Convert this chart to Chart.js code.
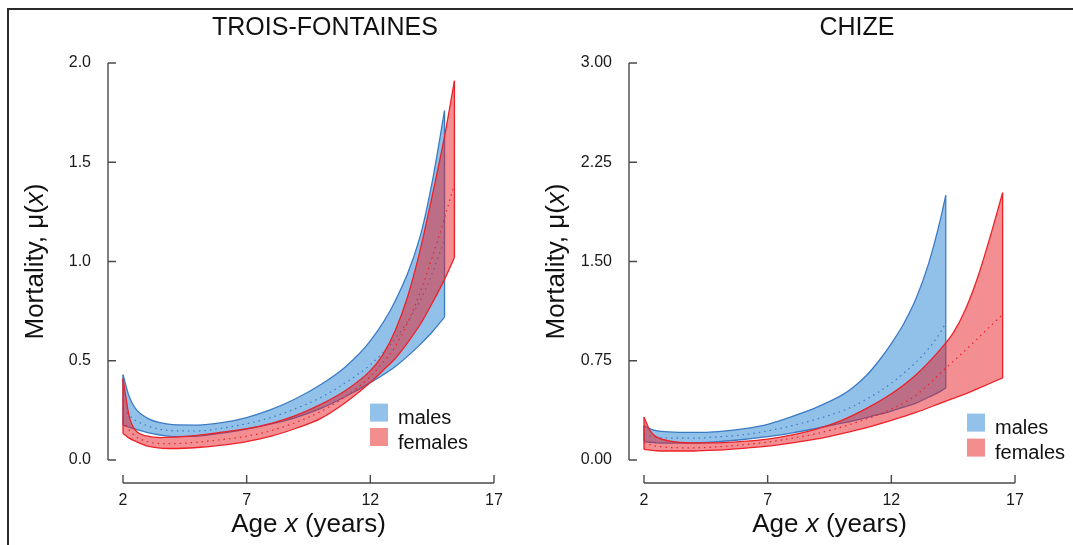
<!DOCTYPE html>
<html>
<head>
<meta charset="utf-8">
<title>Age-specific mortality</title>
<script src="https://cdn.jsdelivr.net/npm/chart.js@4.4.1/dist/chart.umd.min.js"></script>
<style>
  body { margin: 0; background: #fff; overflow: hidden; }
  #frame { position: absolute; left: 7px; top: 8px; width: 1064px; height: 535px;
           border-left: 2px solid #2b2b2b; border-top: 2px solid #2b2b2b; }
  canvas { position: absolute; top: 0; }
  #tf { left: 0; }
  #ch { left: 536px; }
</style>
</head>
<body>
<div id="frame"></div>
<canvas id="tf" width="536" height="545"></canvas>
<canvas id="ch" width="537" height="545"></canvas>
<script>
// tick values
const xTicks = [2, 7, 12, 17];
const tfYTicks = [0, 0.5, 1.0, 1.5, 2.0];
const chYTicks = [0, 0.75, 1.5, 2.25, 3.0];

// Trois-Fontaines, males
const tfMaleAge   = [2, 2.25, 2.5, 3, 3.5, 4, 5, 6, 7, 8, 9, 10, 11, 12, 13, 14, 14.5, 15];
const tfMaleUpper = [0.43, 0.32, 0.26, 0.21, 0.188, 0.178, 0.176, 0.188, 0.214, 0.255, 0.31, 0.38, 0.47, 0.60, 0.80, 1.12, 1.40, 1.76];
const tfMaleLower = [0.176, 0.165, 0.155, 0.138, 0.126, 0.118, 0.12, 0.135, 0.155, 0.182, 0.215, 0.26, 0.32, 0.39, 0.47, 0.58, 0.645, 0.72];
const tfMaleMid   = [0.26, 0.225, 0.2, 0.172, 0.155, 0.148, 0.146, 0.16, 0.183, 0.215, 0.26, 0.315, 0.39, 0.48, 0.61, 0.8, 0.94, 1.11];

// Trois-Fontaines, females
const tfFemaleAge   = [2, 2.25, 2.5, 3, 3.5, 4, 5, 6, 7, 8, 9, 10, 11, 12, 12.5, 13, 13.5, 14, 14.5, 15, 15.4];
const tfFemaleUpper = [0.41, 0.22, 0.15, 0.12, 0.113, 0.115, 0.124, 0.14, 0.158, 0.185, 0.225, 0.28, 0.35, 0.45, 0.53, 0.65, 0.82, 1.05, 1.33, 1.63, 1.91];
const tfFemaleLower = [0.134, 0.11, 0.095, 0.07, 0.06, 0.058, 0.063, 0.075, 0.093, 0.12, 0.16, 0.21, 0.29, 0.39, 0.45, 0.51, 0.59, 0.68, 0.79, 0.91, 1.02];
const tfFemaleMid   = [0.2, 0.15, 0.12, 0.092, 0.083, 0.082, 0.09, 0.103, 0.12, 0.148, 0.19, 0.245, 0.32, 0.42, 0.49, 0.57, 0.69, 0.84, 1.02, 1.22, 1.39];

// Chize, males
const chMaleAge   = [2, 2.25, 2.5, 3, 4, 5, 6, 7, 8, 9, 10, 10.5, 11, 11.5, 12, 12.5, 13, 13.5, 14, 14.2];
const chMaleUpper = [0.26, 0.235, 0.222, 0.212, 0.208, 0.215, 0.235, 0.27, 0.33, 0.40, 0.49, 0.555, 0.64, 0.75, 0.88, 1.03, 1.22, 1.48, 1.83, 2.0];
const chMaleLower = [0.14, 0.134, 0.13, 0.128, 0.128, 0.138, 0.155, 0.176, 0.205, 0.24, 0.278, 0.298, 0.32, 0.344, 0.37, 0.4, 0.43, 0.474, 0.52, 0.545];
const chMaleMid   = [0.195, 0.18, 0.172, 0.166, 0.165, 0.175, 0.19, 0.22, 0.26, 0.31, 0.37, 0.41, 0.46, 0.515, 0.58, 0.655, 0.74, 0.84, 0.97, 1.035];

// Chize, females
const chFemaleAge   = [2, 2.25, 2.5, 3, 4, 5, 6, 7, 8, 9, 10, 11, 12, 13, 14, 14.5, 15, 15.5, 16, 16.5];
const chFemaleUpper = [0.325, 0.22, 0.175, 0.145, 0.13, 0.13, 0.14, 0.158, 0.19, 0.235, 0.3, 0.39, 0.5, 0.645, 0.84, 0.96, 1.14, 1.385, 1.69, 2.02];
const chFemaleLower = [0.08, 0.075, 0.07, 0.068, 0.068, 0.075, 0.088, 0.105, 0.13, 0.16, 0.2, 0.245, 0.3, 0.36, 0.43, 0.465, 0.5, 0.54, 0.58, 0.62];
const chFemaleMid   = [0.13, 0.115, 0.105, 0.095, 0.092, 0.1, 0.115, 0.135, 0.165, 0.2, 0.25, 0.31, 0.385, 0.49, 0.66, 0.745, 0.83, 0.92, 1.01, 1.1];

const BLUE = { line: '#3b7bc4', fill: 'rgba(36,130,210,0.5)', key: '#92c1e9' };
const RED  = { line: '#ec2228', fill: 'rgba(232,30,38,0.5)', key: '#f28e8e' };
const FONT = '"Liberation Sans", Arial, sans-serif';

function pts(age, vals) {
  return age.map((a, i) => ({ x: a, y: vals[i] }));
}

// one shaded band: dotted estimate, lower and upper bounds, closed ends
function band(age, upper, lower, mid, col) {
  const n = age.length - 1;
  const common = { pointRadius: 0, borderWidth: 1.3, borderColor: col.line, fill: false,
                   cubicInterpolationMode: 'monotone', clip: false };
  return [
    { ...common, data: pts(age, mid), borderDash: [1.5, 4], borderWidth: 1.2 },
    { ...common, data: pts(age, lower) },
    { ...common, data: pts(age, upper), fill: '-1', backgroundColor: col.fill },
    { ...common, cubicInterpolationMode: 'default', tension: 0, data: [
        { x: age[0], y: lower[0] }, { x: age[0], y: upper[0] }, { x: age[n], y: null },
        { x: age[n], y: lower[n] }, { x: age[n], y: upper[n] }] }
  ];
}

function mixedText(ctx, parts, size, cx, by) {
  const fonts = parts.map(p => (p[1] ? 'italic ' : '') + size + 'px ' + FONT);
  const ws = parts.map((p, i) => { ctx.font = fonts[i]; return ctx.measureText(p[0]).width; });
  let xx = cx - ws.reduce((s, w) => s + w, 0) / 2;
  parts.forEach((p, i) => { ctx.font = fonts[i]; ctx.fillText(p[0], xx, by); xx += ws[i]; });
}

// R-style detached axes, titles and key
const panel = {
  id: 'panel',
  afterDraw(chart, args, o) {
    const { ctx, chartArea: a, scales: { x, y } } = chart;
    ctx.save();
    ctx.strokeStyle = '#4a4a4a';
    ctx.lineWidth = 1.4;
    const ax = a.left - 15, ay = a.bottom + 23;
    ctx.beginPath();
    ctx.moveTo(ax, y.getPixelForValue(y.max));
    ctx.lineTo(ax, y.getPixelForValue(y.min));
    y.ticks.forEach(t => { const p = y.getPixelForValue(t.value); ctx.moveTo(ax, p); ctx.lineTo(ax + 8, p); });
    ctx.moveTo(x.getPixelForValue(x.min), ay);
    ctx.lineTo(x.getPixelForValue(x.max), ay);
    x.ticks.forEach(t => { const p = x.getPixelForValue(t.value); ctx.moveTo(p, ay); ctx.lineTo(p, ay - 8); });
    ctx.stroke();

    ctx.fillStyle = '#111';
    ctx.textAlign = 'center';
    ctx.textBaseline = 'alphabetic';
    ctx.font = '25px ' + FONT;
    ctx.fillText(o.title, o.titleX, 35);

    ctx.textAlign = 'left';
    mixedText(ctx, [['Age ', false], ['x', true], [' (years)', false]], 26, (a.left + a.right) / 2, 532);
    ctx.save();
    ctx.translate(o.yTitleX, (a.top + a.bottom) / 2);
    ctx.rotate(-Math.PI / 2);
    mixedText(ctx, [['Mortality, \u03bc(', false], ['x', true], [')', false]], 26, 0, 0);
    ctx.restore();

    ctx.font = '20px ' + FONT;
    [['males', BLUE], ['females', RED]].forEach((k, i) => {
      ctx.fillStyle = k[1].key;
      ctx.fillRect(o.keyX, o.keyY[i], 18, 18);
      ctx.fillStyle = '#111';
      ctx.fillText(k[0], o.keyX + 28, o.keyY[i] + 20.5);
    });
    ctx.restore();
  }
};

function makeChart(id, bands, yMax, yTicks, digits, padRight, yWidth, deco) {
  return new Chart(document.getElementById(id), {
    type: 'line',
    data: { datasets: bands },
    options: {
      responsive: false,
      animation: false,
      events: [],
      layout: { padding: { left: 0, top: 63, right: padRight, bottom: 0 } },
      plugins: { legend: { display: false }, tooltip: { enabled: false }, panel: deco },
      scales: {
        x: {
          type: 'linear', min: 2, max: 17,
          grid: { display: false, drawTicks: false }, border: { display: false },
          afterBuildTicks: s => { s.ticks = xTicks.map(v => ({ value: v })); },
          afterFit: s => { s.height = 85; s.paddingLeft = 0; s.paddingRight = 0; },
          ticks: { padding: 31, autoSkip: false, maxRotation: 0, color: '#1a1a1a',
                   font: { family: FONT, size: 16 } }
        },
        y: {
          type: 'linear', min: 0, max: yMax,
          grid: { display: false, drawTicks: false }, border: { display: false },
          afterBuildTicks: s => { s.ticks = yTicks.map(v => ({ value: v })); },
          afterFit: s => { s.width = yWidth; s.paddingTop = 0; s.paddingBottom = 0; },
          ticks: { padding: 32, color: '#1a1a1a', font: { family: FONT, size: 16 },
                   callback: v => Number(v).toFixed(digits) }
        }
      }
    },
    plugins: [panel]
  });
}

makeChart('tf', [
  ...band(tfFemaleAge, tfFemaleUpper, tfFemaleLower, tfFemaleMid, RED),
  ...band(tfMaleAge, tfMaleUpper, tfMaleLower, tfMaleMid, BLUE)
], 2, tfYTicks, 1, 42, 123, { title: 'TROIS-FONTAINES', titleX: 325, yTitleX: 42.5, keyX: 370, keyY: [403.6, 428] });

makeChart('ch', [
  ...band(chFemaleAge, chFemaleUpper, chFemaleLower, chFemaleMid, RED),
  ...band(chMaleAge, chMaleUpper, chMaleLower, chMaleMid, BLUE)
], 3, chYTicks, 2, 58, 108, { title: 'CHIZE', titleX: 321, yTitleX: 27.7, keyX: 431, keyY: [413.6, 438.6] });
</script>
</body>
</html>
